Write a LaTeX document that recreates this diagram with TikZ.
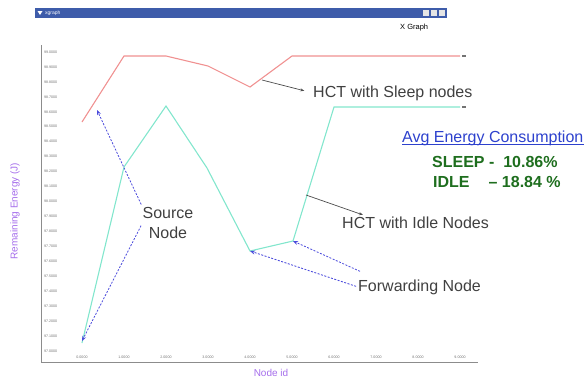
\documentclass[tikz,border=0pt]{standalone}
\usepackage{fontspec}
\setmainfont{Liberation Sans}
\usetikzlibrary{arrows.meta,positioning,calc}

\definecolor{barblue}{RGB}{62,92,170}
\definecolor{sleepred}{RGB}{240,145,145}
\definecolor{idlecyan}{RGB}{130,230,205}
\definecolor{ptrblue}{RGB}{75,75,220}
\definecolor{axlabel}{RGB}{165,110,235}
\definecolor{avgblue}{RGB}{45,65,205}
\definecolor{pctgreen}{RGB}{30,110,30}

\tikzset{
  callout/.style={font=\fontsize{16}{20}\selectfont, text=black!75, inner sep=0pt, align=center},
  result/.style={font=\fontsize{16}{20}\selectfont\bfseries, text=pctgreen, inner sep=0pt, anchor=west},
  ticklbl/.style={font=\fontsize{3.6}{4}\selectfont, text=black!55, inner sep=0pt},
  axlbl/.style={font=\fontsize{10}{12}\selectfont, text=axlabel, inner sep=0pt},
  callptr/.style={->, >={Stealth[length=4pt,width=3pt]}, black!70, line width=0.7pt},
  dashptr/.style={->, >={Stealth[length=5pt,width=4pt]}, ptrblue, line width=0.8pt,
    dash pattern=on 2pt off 1.5pt},
}

\begin{document}
\begin{tikzpicture}[x=1pt,y=-1pt]
    \useasboundingbox (0,0) rectangle (587,380);

    % title bar
    \fill[barblue] (35,8) rectangle (447,18);
    \fill[white] (37.5,11) -- (42.5,11) -- (40,15) -- cycle;
    \node[anchor=west, inner sep=0pt, text=white, font=\fontsize{5}{6}\selectfont] (wintitle) at (45,13) {xgraph};
    \foreach \bx in {423,431,439} {
        \fill[black!10] (\bx,10) rectangle ++(6,6);
    }
    \node[anchor=west, inner sep=0pt, font=\fontsize{7.5}{9}\selectfont] (wingraph) at (400,28) {X Graph};

    % axes
    \draw[black!45, line width=1pt] (41,45) -- (41,362) -- (478,362);

    % ticks
    \foreach \i in {0,...,20} {
        \pgfmathtruncatemacro{\tenths}{970+\i}
        \pgfmathtruncatemacro{\whole}{\tenths/10}
        \pgfmathtruncatemacro{\frac}{\tenths-10*\whole}
        \node[ticklbl, anchor=west] at (44,351-14.95*\i) {\whole.\frac000};
    }
    \foreach \i in {0,...,9} {
        \node[ticklbl] at (82+42*\i,357) {\i.0000};
    }
    \node[axlbl] (xlabel) at (271,373) {Node id};
    \node[axlbl, rotate=90] (ylabel) at (15,211) {Remaining Energy (J)};

    % curves
    \draw[sleepred, line width=1.1pt] (82,122) -- (124,56) -- (166,56) -- (208,66)
      -- (250,87) -- (292,56) -- (460,56);
    \draw[idlecyan, line width=1.1pt] (82,343) -- (124,167) -- (166,106) -- (207,168)
      -- (250,251) -- (293,241) -- (334,107) -- (460,107);
    \fill[black!55] (462,55) rectangle ++(4,2);
    \fill[black!55] (462,106) rectangle ++(4,2);

    % points on the curves
    \coordinate (sleepat) at (262,80);
    \coordinate (idleat) at (306,195);
    \coordinate (srctop) at (97,110);
    \coordinate (srcbot) at (82,341);
    \coordinate (fwdone) at (250,251);
    \coordinate (fwdtwo) at (293,241);

    % callouts
    \node[callout, anchor=west] (sleep) at (313,93) {HCT with Sleep nodes};
    \node[callout, anchor=west] (idle) at (342,223) {HCT with Idle Nodes};
    \node[callout] (source) at (168,223) {Source\\Node};
    \node[callout, anchor=west] (fwd) at (358,287) {Forwarding Node};

    \draw[callptr] (sleepat) -- (sleep.west) [shorten >=9pt];
    \draw[callptr] (idleat) -- ([xshift=21pt,yshift=2pt]idle.north west);
    \draw[dashptr, shorten <=3pt] (source.north west) -- (srctop);
    \draw[dashptr, shorten <=3pt] (source.west) -- (srcbot);
    \draw[dashptr, shorten <=2pt] (fwd.west) -- (fwdone);
    \draw[dashptr] ([xshift=2pt,yshift=8pt]fwd.north west) -- (fwdtwo);

    % results
    \node[callout, anchor=west, text=avgblue] (avg) at (402,138) {Avg Energy Consumption};
    \draw[avgblue, line width=0.6pt] ($(avg.base west)+(0,2.2)$) -- ($(avg.base east)+(0,2.2)$);
    \node[result] (sleeppct) at (432,162) {SLEEP -\ \ 10.86\%};
    \node[result] (idlepct) at (433,182) {IDLE\hspace{19pt}– 18.84 \%};
\end{tikzpicture}
\end{document}
